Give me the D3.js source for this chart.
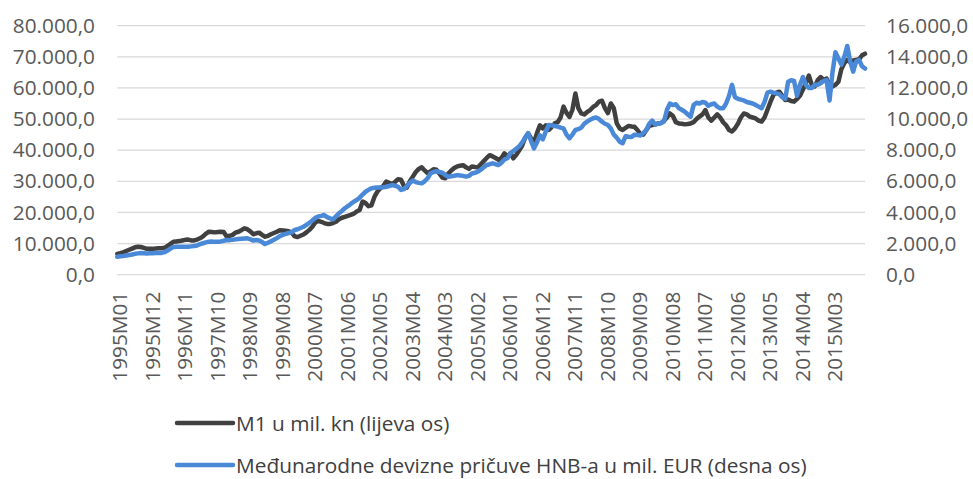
<!DOCTYPE html>
<html><head><meta charset="utf-8">
<script src="https://cdn.jsdelivr.net/npm/d3@7"></script>
<style>
body{margin:0;background:#fff;}
text{font-family:"Open Sans",Lato,sans-serif;}
</style></head>
<body><svg id="c" width="973" height="479"></svg>
<script>
const startYear = 1995, nMonths = 254;
const categories = [];
for (let i = 0; i < nMonths; i++) {
  const y = startYear + Math.floor(i / 12), m = i % 12 + 1;
  categories.push(y + "M" + (m < 10 ? "0" + m : m));
}
const tickLabels = ["1995M01","1995M12","1996M11","1997M10","1998M09","1999M08","2000M07","2001M06","2002M05","2003M04","2004M03","2005M02","2006M01","2006M12","2007M11","2008M10","2009M09","2010M08","2011M07","2012M06","2013M05","2014M04","2015M03"];
const leftTicks = [0,10000,20000,30000,40000,50000,60000,70000,80000];
const rightTicks = [0,2000,4000,6000,8000,10000,12000,14000,16000];
const seriesNames = ["M1 u mil. kn (lijeva os)","Međunarodne devizne pričuve HNB-a u mil. EUR (desna os)"];

const m1 = [
 6700,6900,7200,7600,8000,8400,8800,9000,8900,8600,8300,8300,
 8300,8400,8500,8500,8700,9200,9900,10600,10700,10800,11000,11200,
 11300,11000,11000,11300,11700,12300,13200,13800,13700,13600,13700,13800,
 13700,12300,12500,12800,13500,13800,14300,14900,14600,13900,13000,13300,
 13500,12800,12200,12500,13000,13400,13800,14300,14200,14100,14000,13500,
 12300,12100,12500,12900,13600,14400,15400,16800,17300,17000,16600,16300,
 16300,16600,17000,17800,18300,18600,18900,19200,19600,20300,20800,23500,
 23000,22000,22300,25000,26700,27800,28500,29900,29500,29100,29800,30700,
 30500,28500,28000,30000,31500,33000,34000,34500,33500,32600,33200,33900,
 33700,32500,31200,31000,32500,33500,34300,34800,35000,35200,34500,34000,
 34800,34600,34500,35500,36500,37500,38400,38000,37500,36900,37500,39000,
 38000,39000,37400,38500,40000,41500,44000,45400,43800,42500,45500,48000,
 47000,48000,46500,47500,48600,49000,50500,54000,52000,50700,53000,58200,
 53500,51800,51500,52300,52900,53900,54500,55600,55900,53500,51900,55000,
 53500,48600,47000,46500,47200,47800,47600,47500,46500,45200,45000,46500,
 47800,48100,48300,48600,48700,49500,50500,51800,51000,49000,48600,48500,
 48300,48400,48600,49000,50000,50800,51500,52900,50500,49500,50500,51500,
 50500,49000,48000,46500,46000,47000,48500,50500,51800,51500,50800,50500,
 50200,49500,49200,50500,53000,55500,57700,58500,58800,57500,56100,56300,
 55800,55600,56500,57500,59500,61500,64000,61000,60500,62500,63500,62500,
 63000,61000,60500,61000,62000,66000,68000,69000,68300,68800,69000,69200,
 70500,71000];

const reserves = [
 1150,1180,1200,1230,1270,1300,1340,1370,1390,1380,1370,1380,
 1380,1390,1400,1400,1450,1550,1680,1780,1800,1790,1790,1800,
 1800,1820,1840,1880,1960,2020,2080,2120,2130,2110,2120,2140,
 2180,2230,2220,2250,2270,2290,2310,2330,2340,2280,2190,2230,
 2200,2100,1970,2050,2150,2250,2350,2480,2560,2620,2680,2720,
 2870,2920,3000,3080,3200,3340,3480,3650,3740,3780,3840,3700,
 3620,3560,3750,3950,4100,4270,4400,4550,4690,4800,4950,5150,
 5330,5450,5550,5590,5600,5610,5620,5650,5700,5760,5720,5650,
 5450,5500,5700,5900,6050,5950,5900,5870,6000,6200,6510,6600,
 6650,6600,6550,6400,6300,6330,6360,6400,6380,6350,6300,6350,
 6500,6550,6620,6750,6900,7050,7100,7160,7100,7050,7200,7400,
 7480,7800,7950,8100,8250,8500,8800,9090,8600,8120,8500,8950,
 8700,9200,9620,9600,9550,9520,9450,9400,9000,8770,9000,9300,
 9350,9450,9700,9850,9950,10050,10100,10000,9830,9700,9620,9400,
 9000,8800,8550,8450,8900,8870,8850,9000,8980,8950,9100,9300,
 9700,9900,9650,9700,9750,9850,10600,11000,10900,10950,10700,10600,
 10480,10300,10160,10900,11050,11000,11100,11050,10850,10950,11000,10800,
 10700,10700,11000,11500,12200,11400,11300,11250,11200,11100,11050,11000,
 10900,10800,10700,11100,11700,11760,11700,11650,11600,11400,11300,12400,
 12500,12450,11500,12200,12700,12200,12000,12000,12200,12200,12300,12450,
 12500,11200,13000,14300,13900,13500,14000,14700,13700,13050,13700,13800,
 13400,13250];

const svg = d3.select("#c");
const x = d3.scalePoint().domain(categories).range([117.3, 865]);
const yL = d3.scaleLinear().domain([0, 80000]).range([274.7, 25.7]);
const yR = d3.scaleLinear().domain([0, 16000]).range([274.7, 25.7]);
const fmt = v => {
  const s = d3.format(",.1f")(v);
  return s.replace(/,/g, "#").replace(".", ",").replace(/#/g, ".");
};
const FS = "20.8px";

// gridlines
svg.append("g").selectAll("line").data(leftTicks).join("line")
  .attr("x1", 117.3).attr("x2", 865)
  .attr("y1", d => yL(d)).attr("y2", d => yL(d))
  .attr("stroke", "#d9d9d9").attr("stroke-width", 1.3);

// left axis
const gL = svg.append("g").attr("transform", "translate(117,0)")
  .call(d3.axisLeft(yL).tickValues(leftTicks).tickSize(0).tickPadding(22).tickFormat(fmt));
gL.select(".domain").remove();
gL.selectAll("text").attr("fill", "#595959").style("font-size", FS);

// right axis
const gR = svg.append("g").attr("transform", "translate(865,0)")
  .call(d3.axisRight(yR).tickValues(rightTicks).tickSize(0).tickPadding(21).tickFormat(fmt));
gR.select(".domain").remove();
gR.selectAll("text").attr("fill", "#595959").style("font-size", FS);

// x axis labels
const gX = svg.append("g").attr("transform", "translate(0,274.7)")
  .call(d3.axisBottom(x).tickValues(tickLabels).tickSize(0).tickPadding(0));
gX.select(".domain").remove();
gX.selectAll("text")
  .attr("fill", "#595959").style("font-size", FS)
  .attr("text-anchor", "end").attr("dy", null).attr("y", 0)
  .attr("transform", "translate(0,17) rotate(-90)")
  .attr("dominant-baseline", "central");
gX.selectAll(".tick").attr("transform", d => "translate(" + (x(d) + 2) + ",0)");

// lines
const lineL = d3.line().x((d, i) => x(categories[i])).y(d => yL(d));
const lineR = d3.line().x((d, i) => x(categories[i])).y(d => yR(d));
svg.append("path").datum(m1).attr("d", lineL)
  .attr("fill", "none").attr("stroke", "#404040").attr("stroke-width", 4.5)
  .attr("stroke-linejoin", "round").attr("stroke-linecap", "round");
svg.append("path").datum(reserves).attr("d", lineR)
  .attr("fill", "none").attr("stroke", "#4a89d8").attr("stroke-width", 4.5)
  .attr("stroke-linejoin", "round").attr("stroke-linecap", "round");

// legend
const colors = ["#404040", "#4a89d8"];
const lg = svg.append("g");
seriesNames.forEach((name, i) => {
  const yy = 423 + i * 42;
  lg.append("line").attr("x1", 177).attr("x2", 233).attr("y1", yy).attr("y2", yy)
    .attr("stroke", colors[i]).attr("stroke-width", 4.5).attr("stroke-linecap", "round");
  lg.append("text").attr("x", 236).attr("y", yy).attr("dominant-baseline", "central")
    .attr("fill", "#404040").style("font-size", FS).text(name);
});
</script></body></html>
